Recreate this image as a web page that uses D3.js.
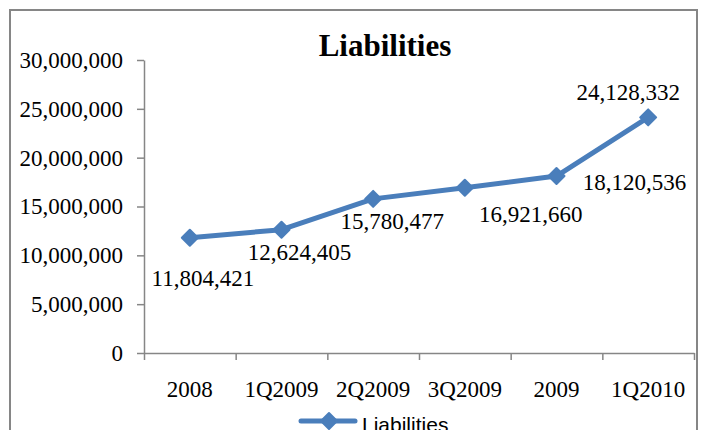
<!DOCTYPE html>
<html>
<head>
<meta charset="utf-8">
<script src="https://cdn.jsdelivr.net/npm/d3@7"></script>
<style>
  body { margin: 0; background: #fff; }
  svg text { font-family: "Liberation Serif", "Times New Roman", serif; }
</style>
</head>
<body>
<svg id="chart" width="703" height="430"></svg>
<script>
// data
var periods = ["2008", "1Q2009", "2Q2009", "3Q2009", "2009", "1Q2010"];
var liabilities = [11804421, 12624405, 15780477, 16921660, 18120536, 24128332];
var yTicks = [0, 5000000, 10000000, 15000000, 20000000, 25000000, 30000000];

// label placement (dx, dy from the marker)
var labelShift = [[13, 48], [18, 30], [19, 30], [66, 34], [78, 14], [-20, -17]];

var blue = "#4a7ebb";
var gray = "#868686";

var svg = d3.select("#chart");
var plotLeft = 144, plotRight = 694, plotTop = 60, plotBottom = 353;

//outer frame
svg.append("rect")
    .attr("x", 10).attr("y", 10)
    .attr("width", 687).attr("height", 450)
    .attr("fill", "#fff")
    .attr("stroke", gray)
    .attr("stroke-width", 2);

//title
svg.append("text")
    .attr("x", 385).attr("y", 56)
    .attr("text-anchor", "middle")
    .attr("font-weight", "bold")
    .attr("font-size", 31)
    .text("Liabilities");

var x = d3.scaleBand()
    .domain(periods)
    .range([plotLeft, plotRight]);

var y = d3.scaleLinear()
    .domain([0, 30000000])
    .range([plotBottom, plotTop]);

//y axis
var yAxis = svg.append("g")
    .attr("transform", "translate(" + plotLeft + ",0)")
    .call(d3.axisLeft(y)
        .tickValues(yTicks)
        .tickSize(7)
        .tickSizeOuter(0)
        .tickPadding(14)
        .tickFormat(d3.format(",")));
yAxis.selectAll("text").attr("font-size", 23).attr("fill", "#000")
    .style("font-family", "Liberation Serif");

//x axis: ticks between categories
var xt = d3.scaleLinear().domain([0, periods.length]).range([plotLeft, plotRight]);
var xAxis = svg.append("g")
    .attr("transform", "translate(0," + plotBottom + ")")
    .call(d3.axisBottom(xt)
        .ticks(periods.length)
        .tickSize(7)
        .tickSizeOuter(0)
        .tickFormat(""));

var xLabels = svg.append("g")
    .attr("transform", "translate(0," + plotBottom + ")")
    .call(d3.axisBottom(x).tickSize(0).tickPadding(28));
xLabels.select(".domain").remove();
xLabels.selectAll("text").attr("font-size", 23).attr("fill", "#000")
    .style("font-family", "Liberation Serif");

svg.selectAll(".domain, .tick line")
    .attr("stroke", gray)
    .attr("stroke-width", 1.5);

//line
var line = d3.line()
    .x(function(d, i) { return x(periods[i]) + x.bandwidth() / 2; })
    .y(function(d) { return y(d); });

svg.append("path")
    .datum(liabilities)
    .attr("d", line)
    .attr("fill", "none")
    .attr("stroke", blue)
    .attr("stroke-width", 5)
    .attr("stroke-linejoin", "round");

var diamond = "M0,-8L8,0L0,8L-8,0Z";

svg.selectAll(".mark")
    .data(liabilities)
    .enter().append("path")
    .attr("class", "mark")
    .attr("d", diamond)
    .attr("transform", function(d, i) {
        return "translate(" + (x(periods[i]) + x.bandwidth() / 2) + "," + y(d) + ")";
    })
    .attr("fill", blue)
    .attr("stroke", blue)
    .attr("stroke-width", 2)
    .attr("stroke-linejoin", "round");

//data labels
svg.selectAll(".lbl")
    .data(liabilities)
    .enter().append("text")
    .attr("class", "lbl")
    .attr("x", function(d, i) { return x(periods[i]) + x.bandwidth() / 2 + labelShift[i][0]; })
    .attr("y", function(d, i) { return y(d) + labelShift[i][1]; })
    .attr("text-anchor", "middle")
    .attr("font-size", 23)
    .text(function(d) { return d3.format(",")(d); });

//legend
var leg = svg.append("g").attr("transform", "translate(301,421)");
leg.append("line")
    .attr("x1", 0).attr("x2", 54)
    .attr("stroke", blue).attr("stroke-width", 5)
    .attr("stroke-linecap", "round");
leg.append("path")
    .attr("d", diamond)
    .attr("transform", "translate(28,0)")
    .attr("fill", blue).attr("stroke", blue)
    .attr("stroke-width", 2).attr("stroke-linejoin", "round");
leg.append("text")
    .attr("x", 61).attr("y", 11)
    .attr("font-size", 21)
    .style("font-family", "Liberation Sans, Arial, sans-serif")
    .text("Liabilities");
</script>
</body>
</html>
